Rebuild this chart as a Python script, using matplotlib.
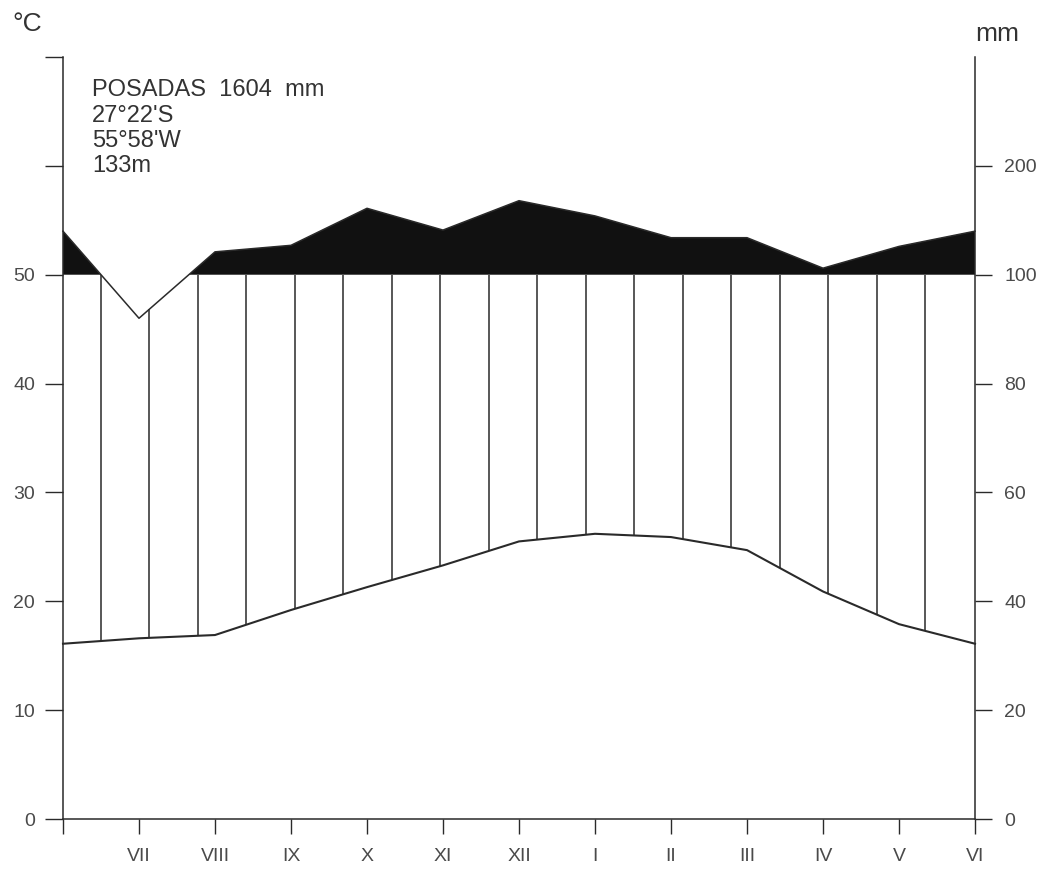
import numpy as np
import matplotlib
matplotlib.use("Agg")
import matplotlib.pyplot as plt

plt.rcParams["font.family"] = ["Liberation Sans", "DejaVu Sans"]

STATION = "POSADAS"
ANNUAL_MM = 1604
LAT = "27°22'S"
LON = "55°58'W"
ALT = "133m"

# months start in July (southern hemisphere layout)
MONTHS = ["VII", "VIII", "IX", "X", "XI", "XII", "I", "II", "III", "IV", "V", "VI"]
TEMP_C = [16.6, 16.9, 19.2, 21.3, 23.3, 25.5, 26.2, 25.9, 24.7, 20.9, 17.9, 16.1]
PRECIP_MM = [92, 121, 127, 161, 141, 168, 154, 134, 134, 106, 126, 140]

RIGHT_TICKS_MM = [0, 20, 40, 60, 80, 100, 200]

INK = "#2a2a2a"
LABEL = "#4a4a4a"


def mm_to_units(p):
    # 20 mm per 10 degC up to 100 mm, then 100 mm per 10 degC
    p = np.asarray(p, dtype=float)
    return np.where(p <= 100, p / 2.0, 50 + (p - 100) / 10.0)


# June closes the year on both edges
x = np.arange(13)
temp = np.array([TEMP_C[-1]] + TEMP_C)
prec = mm_to_units([PRECIP_MM[-1]] + PRECIP_MM)

fig = plt.figure(figsize=(10.52, 8.72), dpi=100)
ax = fig.add_axes([63 / 1052, 53 / 872, 912 / 1052, 762 / 872])
ax.set_xlim(0, 12)
ax.set_ylim(0, 70)

# humid period above 100 mm in solid black
ax.fill_between(x, 50, prec, where=prec >= 50, interpolate=True,
                color="#111111", lw=0, zorder=2)

# vertical hatching between the two curves
hx = 0.5 + 0.638 * np.arange(18)
ax.vlines(hx, np.interp(hx, x, temp), np.minimum(np.interp(hx, x, prec), 50),
          color=INK, lw=1.1, zorder=1)

ax.plot(x, prec, color=INK, lw=1.1, zorder=3, clip_on=False)
ax.plot(x, temp, color=INK, lw=1.5, zorder=3, clip_on=False)

for side in ("top", "right"):
    ax.spines[side].set_visible(False)
for side in ("left", "bottom"):
    ax.spines[side].set_color(INK)
    ax.spines[side].set_linewidth(1.1)

ax.set_yticks(range(0, 80, 10))
ax.set_yticklabels([str(v) if v <= 50 else "" for v in range(0, 80, 10)])
ax.tick_params(axis="y", direction="out", length=13, width=1.0, color=INK,
               pad=7, labelsize=14, labelcolor=LABEL)
ax.set_xticks(range(13))
ax.set_xticklabels([""] + MONTHS)
ax.tick_params(axis="x", direction="out", length=11, width=1.0, color=INK,
               pad=10, labelsize=14, labelcolor=LABEL)

ax2 = ax.twinx()
ax2.set_ylim(0, 70)
for side in ("top", "left", "bottom"):
    ax2.spines[side].set_visible(False)
ax2.spines["right"].set_color(INK)
ax2.spines["right"].set_linewidth(1.1)
ax2.set_yticks(mm_to_units(RIGHT_TICKS_MM))
ax2.set_yticklabels([str(v) for v in RIGHT_TICKS_MM])
ax2.tick_params(axis="y", direction="out", length=12, width=1.0, color=INK,
                pad=9, labelsize=14, labelcolor=LABEL)

# station block
info = [f"{STATION}  {ANNUAL_MM}  mm", LAT, LON, ALT]
for i, line in enumerate(info):
    fig.text(92 / 1052, 1 - (90 + 25.5 * i) / 872, line, fontsize=17,
             color="#333333", ha="left", va="center")

fig.text(27 / 1052, 1 - 24 / 872, "°C", fontsize=19, color="#333333",
         ha="center", va="center")
fig.text(997 / 1052, 1 - 34 / 872, "mm", fontsize=19, color="#333333",
         ha="center", va="center")

fig.savefig("out.png", dpi=100, facecolor="white")
